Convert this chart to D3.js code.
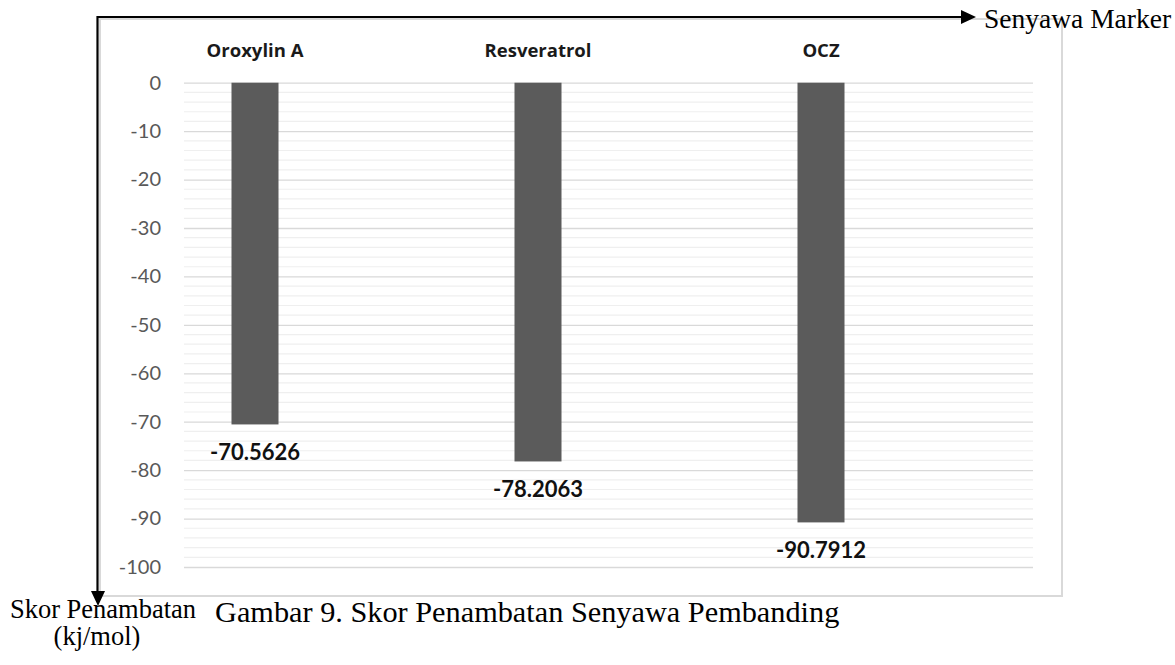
<!DOCTYPE html>
<html><head><meta charset="utf-8">
<script src="https://cdn.jsdelivr.net/npm/d3@7"></script>
<style>html,body{margin:0;padding:0;background:#fff;}svg{display:block;}</style>
</head><body>
<svg id="chart" width="1175" height="665"></svg>
<script>
const categories = ["Oroxylin A", "Resveratrol", "OCZ"];
const values = [-70.5626, -78.2063, -90.7912];
const valueLabels = ["-70.5626", "-78.2063", "-90.7912"];
const yTicks = [0, -10, -20, -30, -40, -50, -60, -70, -80, -90, -100];
const minorTicks = d3.range(0, -101, -2);
const xAxisTitle = "Senyawa Marker";
const yAxisTitle = ["Skor Penambatan", "(kj/mol)"];
const caption = "Gambar 9. Skor Penambatan Senyawa Pembanding";

const svg = d3.select("#chart");
const plot = {left: 184, right: 1033, top: 82.7, bottom: 567};

const y = d3.scaleLinear().domain([0, -100]).range([plot.top, plot.bottom]);
const x = d3.scaleBand().domain(categories).range([113.5, 962.5]);
const barW = 47;

// chart box
svg.append("rect").attr("x", 100).attr("y", 19).attr("width", 962).attr("height", 577)
  .attr("fill", "#fff").attr("stroke", "#d9d9d9").attr("stroke-width", 2);

// minor gridlines
svg.append("g").selectAll("line").data(minorTicks.filter(v => v % 10 !== 0)).join("line")
  .attr("x1", plot.left).attr("x2", plot.right)
  .attr("y1", d => y(d)).attr("y2", d => y(d))
  .attr("stroke", "#efefef").attr("stroke-width", 1.2);

// major gridlines + labels via axis
const yAxis = d3.axisLeft(y).tickValues(yTicks).tickSize(-(plot.right - plot.left)).tickPadding(23)
  .tickFormat(d3.format("d"));
const gy = svg.append("g").attr("transform", `translate(${plot.left},0)`).call(yAxis);
gy.select(".domain").remove();
gy.selectAll(".tick line").attr("stroke", "#d9d9d9").attr("stroke-width", 1.3);
gy.selectAll(".tick text").attr("fill", "#595959").attr("font-family", "Lato, 'Open Sans', sans-serif")
  .attr("font-size", 20).text(d => d === 0 ? "0" : "-" + Math.abs(d));

// bars
svg.append("g").selectAll("rect").data(categories).join("rect")
  .attr("x", (d) => x(d) + x.bandwidth() / 2 - barW / 2)
  .attr("width", barW)
  .attr("y", y(0))
  .attr("height", (d, i) => y(values[i]) - y(0))
  .attr("fill", "#5b5b5b");

// category labels (top)
svg.append("g").selectAll("text").data(categories).join("text")
  .attr("x", d => x(d) + x.bandwidth() / 2).attr("y", 56.5)
  .attr("text-anchor", "middle").attr("font-family", "'Open Sans', Lato, sans-serif")
  .attr("font-weight", 700).attr("font-size", 18.5).attr("fill", "#1a1a1a").text(d => d);

// value labels
svg.append("g").selectAll("text").data(categories).join("text")
  .attr("x", d => x(d) + x.bandwidth() / 2)
  .attr("y", (d, i) => y(values[i]) + 36)
  .attr("text-anchor", "middle").attr("font-family", "Lato, 'Open Sans', sans-serif")
  .attr("font-weight", 700).attr("font-size", 22).attr("fill", "#111").text((d, i) => valueLabels[i]);

// arrows
svg.append("path").attr("d", "M97.5,600 L97.5,17 L970,17")
  .attr("fill", "none").attr("stroke", "#000").attr("stroke-width", 2.2);
svg.append("path").attr("d", "M91,591 L105,591 L98,606 Z").attr("fill", "#000");
svg.append("path").attr("d", "M961,10 L976,17 L961,24 Z").attr("fill", "#000");

const serif = "'Liberation Serif', 'Times New Roman', serif";
svg.append("text").attr("x", 984).attr("y", 28).attr("font-family", serif).attr("font-size", 27.5)
  .attr("fill", "#000").text(xAxisTitle);
svg.append("text").attr("x", 103).attr("y", 618).attr("text-anchor", "middle").attr("font-family", serif)
  .attr("font-size", 26.5).attr("fill", "#000").text(yAxisTitle[0]);
svg.append("text").attr("x", 97).attr("y", 645).attr("text-anchor", "middle").attr("font-family", serif)
  .attr("font-size", 26.5).attr("fill", "#000").text(yAxisTitle[1]);
svg.append("text").attr("x", 215).attr("y", 622).attr("font-family", serif).attr("font-size", 30.3)
  .attr("fill", "#000").text(caption);
</script>
</body></html>
